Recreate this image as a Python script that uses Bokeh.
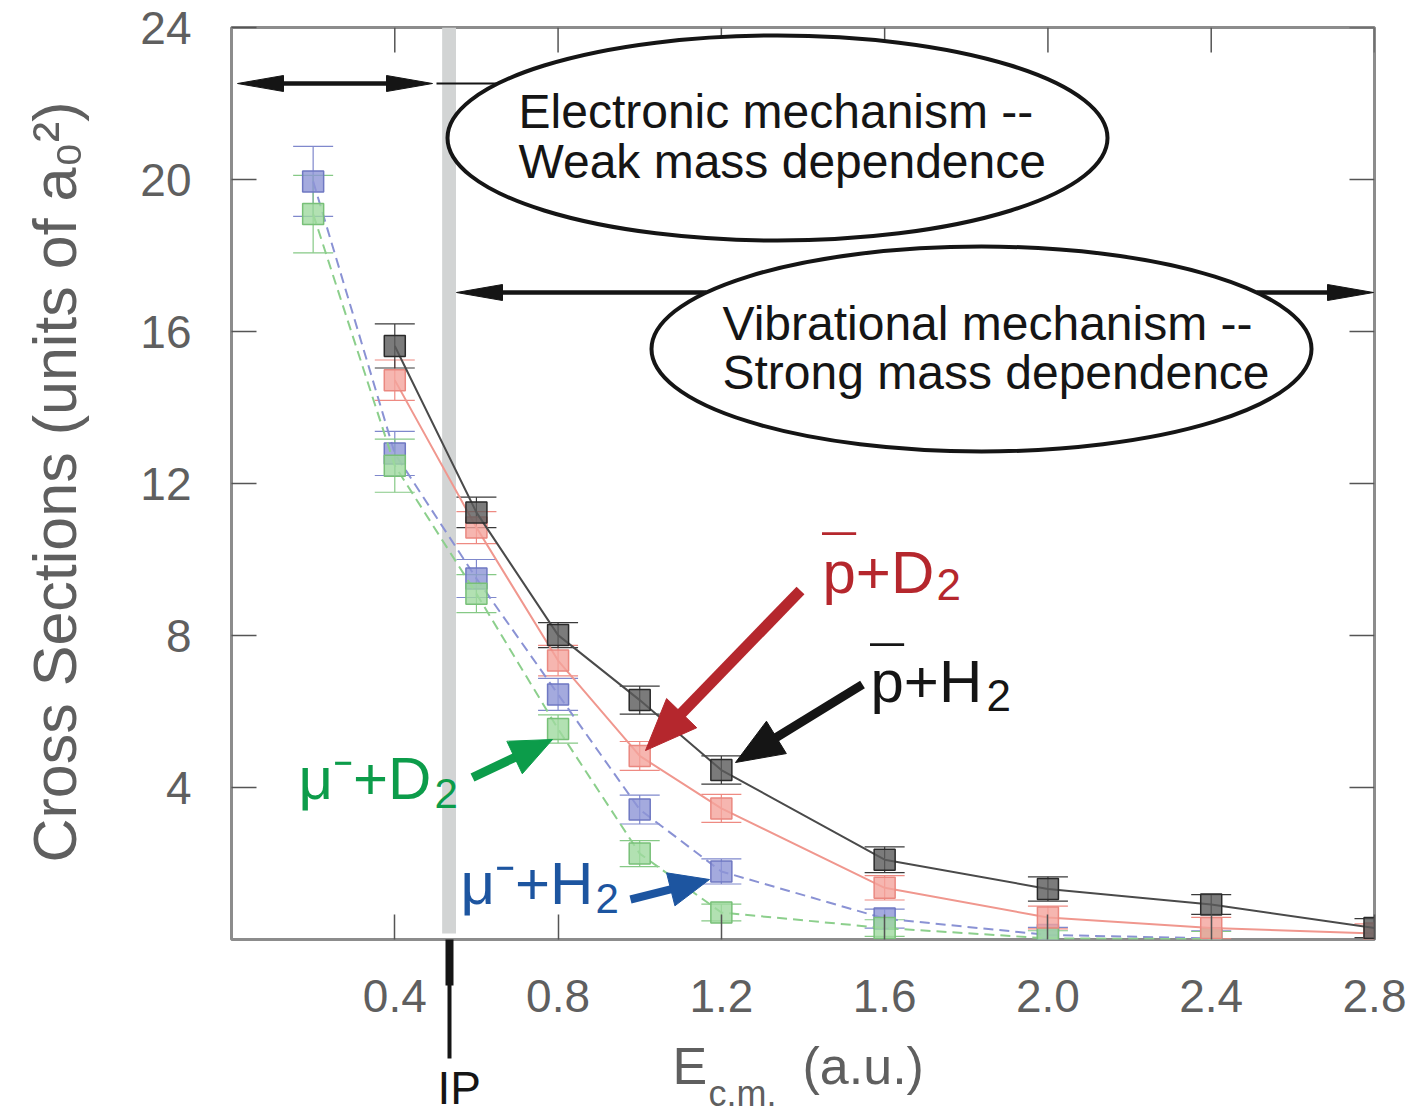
import math
from bokeh.plotting import figure
from bokeh.models import (Range1d, FixedTicker, Label, Whisker, TeeHead, LinearAxis,
                          ColumnDataSource, PrintfTickFormatter)
from bokeh.embed import file_html
from bokeh.resources import INLINE

# ---------------- data ----------------
x_mu = [0.2, 0.4, 0.6, 0.8, 1.0, 1.2, 1.6, 2.0, 2.4]
mu_H2 = [19.95, 12.79, 9.50, 6.45, 3.42, 1.79, 0.55, 0.12, 0.03]
mu_H2_err = [0.92, 0.58, 0.50, 0.42, 0.38, 0.33, 0.25, 0.20, 0.20]
mu_D2 = [19.09, 12.47, 9.10, 5.54, 2.26, 0.71, 0.30, 0.03, 0.01]
mu_D2_err = [1.02, 0.70, 0.50, 0.37, 0.34, 0.22, 0.22, 0.20, 0.20]

x_p = [0.4, 0.6, 0.8, 1.0, 1.2, 1.6, 2.0, 2.4, 2.8]
pbar_H2 = [15.62, 11.24, 8.01, 6.30, 4.46, 2.10, 1.33, 0.92, 0.30]
pbar_H2_err = [0.58, 0.40, 0.33, 0.37, 0.37, 0.34, 0.32, 0.26, 0.25]
pbar_D2 = [14.72, 10.84, 7.34, 4.83, 3.45, 1.36, 0.58, 0.30, 0.16]
pbar_D2_err = [0.53, 0.42, 0.40, 0.38, 0.37, 0.32, 0.30, 0.28, 0.25]

x_ticks = [0.4, 0.8, 1.2, 1.6, 2.0, 2.4, 2.8]
y_ticks = [4, 8, 12, 16, 20, 24]
ip_energy = 0.533     # ionisation potential (gray band / IP arrow)
ip_halfwidth = 0.017

# ---------------- layout ----------------
W, H = 1420, 1117
FL, FT, FW, FH = 231, 27, 1143, 912
X0, X1, Y0, Y1 = 0.0, 2.8, 0.0, 24.0


def dx(px):
    return X0 + (px - FL) / FW * (X1 - X0)


def dy(py):
    return Y1 - (py - FT) / FH * (Y1 - Y0)


AX_FONT = "Liberation Sans"
TXT_FONT = "Liberation Sans"
AX_COLOR = "#5f5f5f"
BLACK = "#151515"
TICK_LEN = 25
NBSP = "\u00a0"

p = figure(width=W, height=H, x_range=Range1d(X0, X1), y_range=Range1d(Y0, Y1),
           output_backend="svg", toolbar_location=None,
           min_border_left=FL, min_border_top=FT,
           min_border_right=W - FL - FW, min_border_bottom=H - FT - FH)
p.background_fill_color = "white"
p.border_fill_color = "white"
p.xgrid.visible = False
p.ygrid.visible = False
p.outline_line_color = "#8c8c8c"
p.outline_line_width = 3

for ax in (p.xaxis[0], p.yaxis[0]):
    ax.axis_line_color = None
    ax.major_tick_in = TICK_LEN
    ax.major_tick_out = 0
    ax.minor_tick_line_color = None
    ax.minor_tick_in = 0
    ax.minor_tick_out = 0
    ax.major_tick_line_color = "#555555"
    ax.major_tick_line_width = 1.5
    ax.major_label_text_font = AX_FONT
    ax.major_label_text_font_size = "46px"
    ax.major_label_text_color = AX_COLOR

HEAD_LEN = 46
# x axis: its single minor tick draws the (thick) head part of the IP marker
p.xaxis.ticker = FixedTicker(ticks=x_ticks, minor_ticks=[ip_energy])
p.xaxis.formatter = PrintfTickFormatter(format="%.1f")
p.xaxis.minor_tick_out = HEAD_LEN
p.xaxis.minor_tick_line_color = BLACK
p.xaxis.minor_tick_line_width = 8
p.xaxis.major_label_standoff = 40 - HEAD_LEN
p.yaxis.ticker = FixedTicker(ticks=y_ticks)
p.yaxis.major_label_standoff = 40

# a label-less axis below the tick labels whose single minor tick draws the IP marker line
ip_axis = LinearAxis(ticker=FixedTicker(ticks=[], minor_ticks=[ip_energy]),
                     axis_line_color=None, major_tick_line_color=None,
                     major_tick_in=0, major_tick_out=0, major_label_standoff=0,
                     minor_tick_in=60, minor_tick_out=44,
                     minor_tick_line_color=BLACK, minor_tick_line_width=4)
p.add_layout(ip_axis, "below")

# mirrored inward ticks on the top and right edges
p.segment(x0=x_ticks, x1=x_ticks, y0=[Y1] * len(x_ticks),
          y1=[dy(FT + TICK_LEN)] * len(x_ticks), line_color="#555555", line_width=1.5)
p.segment(x0=[X1] * len(y_ticks), x1=[dx(FL + FW - TICK_LEN)] * len(y_ticks),
          y0=y_ticks, y1=y_ticks, line_color="#555555", line_width=1.5)

# gray band at the ionisation potential
p.quad(left=[ip_energy - ip_halfwidth], right=[ip_energy + ip_halfwidth],
       bottom=[dy(933)], top=[Y1], fill_color="#d2d4d4", line_color=None)


# ---------------- arrows (drawn in pixel space of the frame) ----------------
def head_pts(tx, ty, ux, uy, hl, hw):
    bx, by = tx - ux * hl, ty - uy * hl
    nx, ny = -uy, ux
    return ([dx(tx), dx(bx + nx * hw), dx(bx - nx * hw)],
            [dy(ty), dy(by + ny * hw), dy(by - ny * hw)])


def arrow(x0, y0, x1, y1, lw, hl, hw, color, start_head=False, end_head=True):
    L = math.hypot(x1 - x0, y1 - y0)
    ux, uy = (x1 - x0) / L, (y1 - y0) / L
    sx0, sy0, sx1, sy1 = x0, y0, x1, y1
    if end_head:
        sx1, sy1 = x1 - ux * hl * 0.8, y1 - uy * hl * 0.8
    if start_head:
        sx0, sy0 = x0 + ux * hl * 0.8, y0 + uy * hl * 0.8
    p.line([dx(sx0), dx(sx1)], [dy(sy0), dy(sy1)], line_width=lw, line_color=color)
    if end_head:
        xs, ys = head_pts(x1, y1, ux, uy, hl, hw)
        p.patch(xs, ys, fill_color=color, line_color=color, line_width=1)
    if start_head:
        xs, ys = head_pts(x0, y0, -ux, -uy, hl, hw)
        p.patch(xs, ys, fill_color=color, line_color=color, line_width=1)


arrow(237, 83, 432, 83, 4.5, 46, 8, BLACK, start_head=True, end_head=True)
arrow(436, 83, 500, 83, 2, 1, 1, BLACK, end_head=False)
arrow(706, 292, 456, 292, 4.5, 46, 8, BLACK)
arrow(1256, 292, 1373, 292, 4.5, 46, 8, BLACK)

# ellipses with explanatory text
p.ellipse(x=[dx(777), dx(981)], y=[dy(137.5), dy(348.5)],
          width=[660 / FW * (X1 - X0)] * 2, height=[205 / FH * (Y1 - Y0)] * 2,
          fill_color="white", line_color=BLACK, line_width=4)

SHIFT = 0.36  # empirical baseline correction (fraction of font size)


def label(text, px, py, size, color, font=TXT_FONT, rotated=False, place=None):
    if rotated:
        px = px - SHIFT * size
        angle = math.pi / 2
    else:
        py = py - SHIFT * size
        angle = 0.0
    lab = Label(x=px, y=py, x_units="canvas", y_units="canvas", text=text,
                text_font=font, text_font_size=f"{size}px", text_color=color,
                text_align="left", text_baseline="alphabetic", angle=angle)
    if place is None:
        p.add_layout(lab)
    else:
        p.add_layout(lab, place)


label("Electronic mechanism --", 518, 128, 48, BLACK)
label("Weak mass dependence", 518, 178, 48, BLACK)
label("Vibrational mechanism --", 722, 340, 48, BLACK)
label("Strong mass dependence", 722, 389, 48, BLACK)

# ---------------- data series ----------------
series = [
    ("mu_H2", x_mu, mu_H2, mu_H2_err, "#8a92d4", "10 6", "#8d95d6", "#6f78c2", "#7f88cc"),
    ("mu_D2", x_mu, mu_D2, mu_D2_err, "#8ccf8c", "10 6", "#9fd99f", "#78c078", "#86c986"),
    ("pbar_D2", x_p, pbar_D2, pbar_D2_err, "#f0978e", "solid", "#f4a49c", "#ea8880", "#ee8a82"),
    ("pbar_H2", x_p, pbar_H2, pbar_H2_err, "#4a4a4a", "solid", "#5a5a5a", "#2a2a2a", "#3a3a3a"),
]
for name, xs, ys, es, lcol, dash, fcol, ecol, wcol in series:
    src = ColumnDataSource(dict(x=xs, y=ys,
                                lo=[v - e for v, e in zip(ys, es)],
                                hi=[v + e for v, e in zip(ys, es)]))
    p.line("x", "y", source=src, line_color=lcol, line_width=2, line_dash=dash)
    p.scatter("x", "y", source=src, marker="square", size=21, fill_color=fcol,
              fill_alpha=0.8, line_color=ecol, line_width=1.5)
    p.add_layout(Whisker(source=src, base="x", lower="lo", upper="hi",
                         line_color=wcol, line_width=1.2,
                         upper_head=TeeHead(size=40, line_color=wcol, line_width=1.2),
                         lower_head=TeeHead(size=40, line_color=wcol, line_width=1.2)))

# ---------------- series labels with arrows ----------------
RED, GREEN, BLUE = "#b5272d", "#0c9c4a", "#1d55a0"
arrow(800, 590, 645, 750, 11, 52, 21, RED)
arrow(862, 684, 735, 762, 9, 48, 19, BLACK)
arrow(472, 777, 552, 739, 9, 42, 18, GREEN)
arrow(630, 899, 709, 879, 8, 40, 17, BLUE)

label("\u00af", 822, 578, 60, RED)
label("p+D", 822, 594, 60, RED)
label("2", 936, 600, 44, RED)
label("\u00af", 870, 689, 60, BLACK)
label("p+H", 870, 703, 60, BLACK)
label("2", 986, 711, 44, BLACK)
label("\u03bc\u207b+D", 298, 800, 60, GREEN)
label("2", 434, 808, 42, GREEN)
label("\u03bc\u207b+H", 460, 905, 60, BLUE)
label("2", 595, 913, 42, BLUE)

# ---------------- texts outside the frame (placed in the side panels) ----------------
label("Cross Sections (units of a\u2080\u00b2)", 76, 862, 61, AX_COLOR,
      font=AX_FONT, rotated=True, place="left")
label("c.m.", 708, 1106, 36, AX_COLOR, font=AX_FONT, place="left")
label("E" + NBSP * 6 + "\u2006(a.u.)", 672, 1084, 52, AX_COLOR, font=AX_FONT, place="below")
label("IP", 437, 1104, 46, BLACK, place="right")

open("out.html", "w").write(file_html(p, INLINE))
